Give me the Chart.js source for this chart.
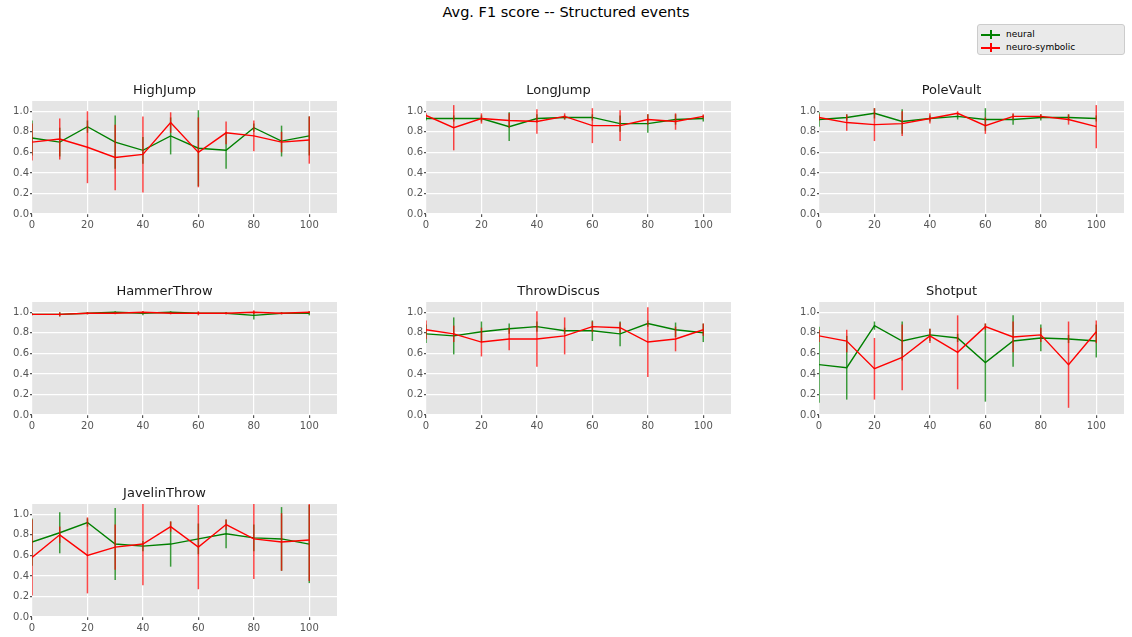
<!DOCTYPE html>
<html>
<head>
<meta charset="utf-8">
<script src="https://cdn.jsdelivr.net/npm/chart.js@4.4.1/dist/chart.umd.min.js"></script>
<style>
  html, body { margin: 0; padding: 0; background: #fff; }
  body { width: 1132px; height: 637px; position: relative; overflow: hidden; font-family: 'DejaVu Sans', sans-serif; }
  #suptitle { position: absolute; left: 0; top: 4px; width: 1132px; text-align: center; font-size: 14.5px; line-height: 17px; color: #000; }
  .panel { position: absolute; }
  #legend { position: absolute; left: 977px; top: 24px; width: 148px; height: 31px; background: #eaeaea; border: 1px solid #cccccc; border-radius: 3px; box-sizing: border-box; font-size: 9px; color: #000; }
  .leg-row { position: absolute; left: 0; height: 13px; line-height: 13px; }
  .leg-line { position: absolute; left: 3px; top: 6px; width: 19px; height: 1.5px; }
  .leg-bar { position: absolute; left: 12px; top: 2px; width: 1.5px; height: 9px; }
  .leg-text { position: absolute; left: 28px; top: 0; white-space: nowrap; }
</style>
</head>
<body>
<div id="suptitle">Avg. F1 score -- Structured events</div>
<div id="legend">
  <div class="leg-row" style="top:3px"><span class="leg-line" style="background:#008000"></span><span class="leg-bar" style="background:#008000"></span><span class="leg-text">neural</span></div>
  <div class="leg-row" style="top:16px"><span class="leg-line" style="background:#ff0000"></span><span class="leg-bar" style="background:#ff0000"></span><span class="leg-text">neuro-symbolic</span></div>
</div>
<div id="panels"></div>

<script>
/* ================= DATA ================= */
const STEPS = [0, 10, 20, 30, 40, 50, 60, 70, 80, 90, 100];
const X_TICKS = [0, 20, 40, 60, 80, 100];
const Y_TICKS = [0, 0.2, 0.4, 0.6, 0.8, 1.0];

const HIGHJUMP_NEURAL       = [0.74, 0.70, 0.85, 0.70, 0.62, 0.76, 0.64, 0.62, 0.84, 0.71, 0.76];
const HIGHJUMP_NEURAL_ERR   = [0.17, 0.14, 0.06, 0.26, 0.13, 0.18, 0.37, 0.18, 0.04, 0.15, 0.19];
const HIGHJUMP_NEUROSYM     = [0.70, 0.73, 0.65, 0.55, 0.58, 0.89, 0.60, 0.79, 0.76, 0.70, 0.72];
const HIGHJUMP_NEUROSYM_ERR = [0.18, 0.20, 0.35, 0.32, 0.37, 0.10, 0.34, 0.11, 0.15, 0.10, 0.23];

const LONGJUMP_NEURAL       = [0.93, 0.93, 0.93, 0.85, 0.93, 0.94, 0.94, 0.88, 0.88, 0.92, 0.93];
const LONGJUMP_NEURAL_ERR   = [0.02, 0.03, 0.03, 0.14, 0.04, 0.02, 0.03, 0.08, 0.09, 0.05, 0.03];
const LONGJUMP_NEUROSYM     = [0.96, 0.84, 0.93, 0.91, 0.90, 0.95, 0.86, 0.86, 0.92, 0.90, 0.95];
const LONGJUMP_NEUROSYM_ERR = [0.02, 0.22, 0.05, 0.07, 0.12, 0.03, 0.17, 0.15, 0.05, 0.08, 0.02];

const POLEVAULT_NEURAL       = [0.92, 0.94, 0.98, 0.90, 0.93, 0.95, 0.92, 0.92, 0.94, 0.94, 0.93];
const POLEVAULT_NEURAL_ERR   = [0.07, 0.03, 0.05, 0.12, 0.03, 0.03, 0.11, 0.05, 0.03, 0.03, 0.03];
const POLEVAULT_NEUROSYM     = [0.94, 0.89, 0.87, 0.88, 0.93, 0.98, 0.86, 0.95, 0.95, 0.92, 0.85];
const POLEVAULT_NEUROSYM_ERR = [0.03, 0.08, 0.16, 0.12, 0.05, 0.02, 0.08, 0.03, 0.02, 0.05, 0.21];

const HAMMERTHROW_NEURAL       = [0.98, 0.98, 0.99, 1.00, 0.99, 1.00, 0.99, 0.99, 0.97, 0.99, 0.99];
const HAMMERTHROW_NEURAL_ERR   = [0.01, 0.02, 0.01, 0.01, 0.02, 0.01, 0.01, 0.01, 0.04, 0.01, 0.02];
const HAMMERTHROW_NEUROSYM     = [0.98, 0.98, 0.99, 0.99, 1.00, 0.99, 0.99, 0.99, 1.00, 0.99, 1.00];
const HAMMERTHROW_NEUROSYM_ERR = [0.01, 0.02, 0.01, 0.01, 0.01, 0.01, 0.02, 0.01, 0.02, 0.01, 0.01];

const THROWDISCUS_NEURAL       = [0.79, 0.77, 0.81, 0.84, 0.86, 0.82, 0.82, 0.79, 0.89, 0.83, 0.80];
const THROWDISCUS_NEURAL_ERR   = [0.09, 0.18, 0.10, 0.05, 0.05, 0.03, 0.10, 0.12, 0.03, 0.07, 0.09];
const THROWDISCUS_NEUROSYM     = [0.83, 0.79, 0.71, 0.74, 0.74, 0.77, 0.86, 0.85, 0.71, 0.74, 0.83];
const THROWDISCUS_NEUROSYM_ERR = [0.09, 0.08, 0.14, 0.11, 0.27, 0.18, 0.05, 0.05, 0.34, 0.12, 0.06];

const SHOTPUT_NEURAL       = [0.49, 0.46, 0.87, 0.72, 0.78, 0.75, 0.51, 0.72, 0.75, 0.74, 0.72];
const SHOTPUT_NEURAL_ERR   = [0.37, 0.31, 0.04, 0.19, 0.06, 0.04, 0.38, 0.25, 0.13, 0.04, 0.16];
const SHOTPUT_NEUROSYM     = [0.77, 0.72, 0.45, 0.56, 0.77, 0.61, 0.86, 0.76, 0.78, 0.49, 0.81];
const SHOTPUT_NEUROSYM_ERR = [0.06, 0.11, 0.30, 0.32, 0.07, 0.36, 0.03, 0.15, 0.07, 0.42, 0.11];

const JAVELIN_NEURAL       = [0.73, 0.82, 0.92, 0.71, 0.69, 0.71, 0.76, 0.81, 0.77, 0.76, 0.71];
const JAVELIN_NEURAL_ERR   = [0.23, 0.20, 0.04, 0.35, 0.05, 0.22, 0.15, 0.14, 0.13, 0.31, 0.38];
const JAVELIN_NEUROSYM     = [0.58, 0.80, 0.60, 0.68, 0.71, 0.88, 0.68, 0.90, 0.76, 0.73, 0.75];
const JAVELIN_NEUROSYM_ERR = [0.37, 0.08, 0.37, 0.22, 0.40, 0.05, 0.41, 0.05, 0.39, 0.28, 0.40];

const EVENTS = ['HighJump', 'LongJump', 'PoleVault', 'HammerThrow', 'ThrowDiscus', 'Shotput', 'JavelinThrow'];
const SERIES = [
    [HIGHJUMP_NEURAL, HIGHJUMP_NEURAL_ERR, HIGHJUMP_NEUROSYM, HIGHJUMP_NEUROSYM_ERR],
    [LONGJUMP_NEURAL, LONGJUMP_NEURAL_ERR, LONGJUMP_NEUROSYM, LONGJUMP_NEUROSYM_ERR],
    [POLEVAULT_NEURAL, POLEVAULT_NEURAL_ERR, POLEVAULT_NEUROSYM, POLEVAULT_NEUROSYM_ERR],
    [HAMMERTHROW_NEURAL, HAMMERTHROW_NEURAL_ERR, HAMMERTHROW_NEUROSYM, HAMMERTHROW_NEUROSYM_ERR],
    [THROWDISCUS_NEURAL, THROWDISCUS_NEURAL_ERR, THROWDISCUS_NEUROSYM, THROWDISCUS_NEUROSYM_ERR],
    [SHOTPUT_NEURAL, SHOTPUT_NEURAL_ERR, SHOTPUT_NEUROSYM, SHOTPUT_NEUROSYM_ERR],
    [JAVELIN_NEURAL, JAVELIN_NEURAL_ERR, JAVELIN_NEUROSYM, JAVELIN_NEUROSYM_ERR]
];

/* ================= LAYOUT ================= */
const COL_LEFT = [32, 426, 819];
const ROW_TOP = [101, 302, 504];
const PLOT_W = 305, PLOT_H = 113;
const AXIS_W = 40, TITLE_H = 28, XAXIS_H = 22, PAD_R = 4;

/* ================= PLUGINS ================= */
// ggplot-like grey panel
const panelBg = {
    id: 'panelBg',
    beforeDraw(chart) {
        const { ctx, chartArea: a } = chart;
        ctx.save();
        ctx.fillStyle = '#e5e5e5';
        ctx.fillRect(a.left, a.top, a.width, a.height);
        ctx.restore();
    }
};

// vertical error bars, drawn under each dataset's own line
const errorBars = {
    id: 'errorBars',
    beforeDatasetDraw(chart, args) {
        const ds = chart.data.datasets[args.index];
        const { ctx, chartArea: a, scales: { x, y } } = chart;
        ctx.save();
        ctx.beginPath();
        ctx.rect(a.left, a.top, a.width, a.height);
        ctx.clip();
        ctx.strokeStyle = ds.errColor;
        ctx.lineWidth = 1.5;
        ds.data.forEach((pt, i) => {
            const px = x.getPixelForValue(pt.x);
            ctx.beginPath();
            ctx.moveTo(px, y.getPixelForValue(pt.y - ds.errors[i]));
            ctx.lineTo(px, y.getPixelForValue(pt.y + ds.errors[i]));
            ctx.stroke();
        });
        ctx.restore();
    }
};

function toPoints(vals) {
    return STEPS.map((s, i) => ({ x: s, y: vals[i] }));
}

function keepTicks(list) {
    return axis => { axis.ticks = axis.ticks.filter(t => list.some(v => Math.abs(v - t.value) < 1e-6)); };
}

const tickFont = { family: 'DejaVu Sans', size: 10 };

/* ================= CHARTS ================= */
const host = document.getElementById('panels');

EVENTS.forEach((name, k) => {
    const [nMean, nErr, sMean, sErr] = SERIES[k];
    const col = k % 3, row = Math.floor(k / 3);

    const canvas = document.createElement('canvas');
    canvas.className = 'panel';
    canvas.width = AXIS_W + PLOT_W + PAD_R;
    canvas.height = TITLE_H + PLOT_H + XAXIS_H;
    canvas.style.left = (COL_LEFT[col] - AXIS_W) + 'px';
    canvas.style.top = (ROW_TOP[row] - TITLE_H) + 'px';
    host.appendChild(canvas);

    new Chart(canvas.getContext('2d'), {
        type: 'line',
        data: {
            datasets: [
                {
                    label: 'neural',
                    data: toPoints(nMean),
                    errors: nErr,
                    errColor: 'rgba(0, 128, 0, 0.75)',
                    borderColor: '#008000',
                    borderWidth: 1.4,
                    pointRadius: 0,
                    tension: 0,
                    order: 2
                },
                {
                    label: 'neuro-symbolic',
                    data: toPoints(sMean),
                    errors: sErr,
                    errColor: 'rgba(255, 0, 0, 0.72)',
                    borderColor: '#ff0000',
                    borderWidth: 1.4,
                    pointRadius: 0,
                    tension: 0,
                    order: 1
                }
            ]
        },
        options: {
            responsive: false,
            animation: false,
            layout: { padding: { left: 0, right: PAD_R, top: 0, bottom: 0 } },
            plugins: {
                legend: { display: false },
                tooltip: { enabled: false },
                title: {
                    display: true,
                    text: name,
                    color: '#1a1a1a',
                    font: { family: 'DejaVu Sans', size: 13, weight: 'normal' },
                    padding: { top: 10, bottom: 2.4 }
                }
            },
            scales: {
                x: {
                    type: 'linear',
                    min: 0,
                    max: 110,
                    afterBuildTicks: keepTicks(X_TICKS),
                    afterFit: s => { s.height = XAXIS_H; },
                    ticks: { stepSize: 10, color: '#555555', font: tickFont, padding: 2, maxRotation: 0, autoSkip: false },
                    grid: { color: '#ffffff', lineWidth: 1.2, tickColor: '#555555', tickLength: 3 },
                    border: { display: false }
                },
                y: {
                    min: 0,
                    max: 1.1,
                    afterBuildTicks: keepTicks(Y_TICKS),
                    afterFit: s => { s.width = AXIS_W; },
                    ticks: { stepSize: 0.1, color: '#555555', font: tickFont, padding: 1, callback: v => v.toFixed(1) },
                    grid: { color: '#ffffff', lineWidth: 1.2, tickColor: '#555555', tickLength: 2 },
                    border: { display: false }
                }
            }
        },
        plugins: [panelBg, errorBars]
    });
});
</script>
</body>
</html>
